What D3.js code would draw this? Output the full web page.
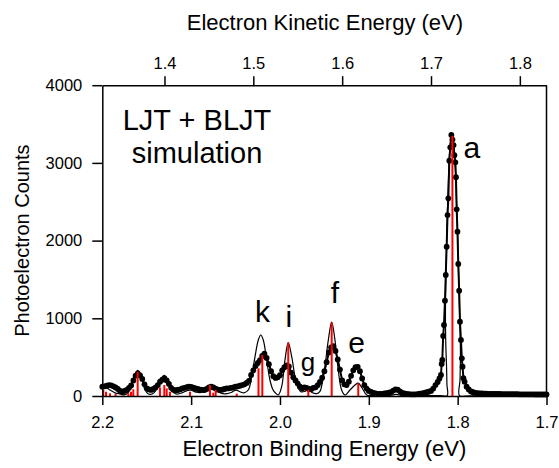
<!DOCTYPE html>
<html>
<head>
<meta charset="utf-8">
<script src="https://cdn.jsdelivr.net/npm/d3@7"></script>
<style>
    body { margin: 0; background: #fff; }
    svg text { font-family: "Liberation Sans", Arial, sans-serif; fill: #000; }
    .axis path, .axis line { stroke: #000; stroke-width: 1.5; }
</style>
</head>
<body>
<svg id="spectrum" width="559" height="468"></svg>
<script>
'use strict';

// Axis ticks
const bindingTicks = [2.2, 2.1, 2.0, 1.9, 1.8, 1.7];
const kineticTicks = [1.4, 1.5, 1.6, 1.7, 1.8];
const countTicks = [0, 1000, 2000, 3000, 4000];
const photonEnergy = 3.530;

// Experimental spectrum [binding energy (eV), counts]
const experiment = [
    [2.2000,120],[2.1975,125],[2.1950,132],[2.1925,140],[2.1900,138],[2.1875,125],[2.1850,110],[2.1825,90],
    [2.1800,65],[2.1775,55],[2.1750,65],[2.1725,77],[2.1700,105],[2.1675,135],[2.1650,200],[2.1625,262],
    [2.1600,292],[2.1575,265],[2.1550,220],[2.1525,150],[2.1500,99],[2.1475,85],[2.1450,78],[2.1425,90],
    [2.1400,110],[2.1375,140],[2.1350,185],[2.1325,210],[2.1300,227],[2.1275,200],[2.1250,155],[2.1225,105],
    [2.1200,80],[2.1175,75],[2.1150,77],[2.1125,85],[2.1100,97],[2.1075,105],[2.1050,115],[2.1025,120],
    [2.1000,118],[2.0975,108],[2.0950,98],[2.0925,90],[2.0900,82],[2.0875,78],[2.0850,77],[2.0825,90],
    [2.0800,110],[2.0775,120],[2.0750,110],[2.0725,95],[2.0700,82],[2.0675,77],[2.0650,82],[2.0625,90],
    [2.0600,97],[2.0575,99],[2.0550,104],[2.0525,112],[2.0500,120],[2.0475,125],[2.0450,132],[2.0425,140],
    [2.0400,150],[2.0375,168],[2.0350,195],[2.0325,270],[2.0300,330],[2.0275,385],[2.0250,425],[2.0225,462],
    [2.0200,515],[2.0175,545],[2.0150,490],[2.0125,410],[2.0100,320],[2.0075,255],[2.0050,232],[2.0025,240],
    [2.0000,268],[1.9975,330],[1.9950,370],[1.9925,395],[1.9900,380],[1.9875,300],[1.9850,240],[1.9825,200],
    [1.9800,160],[1.9775,120],[1.9750,100],[1.9725,110],[1.9700,105],[1.9675,90],[1.9650,88],[1.9625,105],
    [1.9600,112],[1.9575,140],[1.9550,180],[1.9525,235],[1.9500,320],[1.9475,435],[1.9450,560],[1.9425,625],
    [1.9400,640],[1.9375,580],[1.9350,470],[1.9325,340],[1.9300,200],[1.9275,150],[1.9250,140],[1.9225,185],
    [1.9200,260],[1.9175,330],[1.9150,370],[1.9125,375],[1.9100,320],[1.9075,225],[1.9050,140],[1.9025,95],
    [1.9000,65],[1.8975,52],[1.8950,40],[1.8925,32],[1.8900,28],[1.8875,26],[1.8850,28],[1.8825,32],
    [1.8800,38],[1.8775,42],[1.8750,50],[1.8725,70],[1.8700,85],[1.8675,82],[1.8650,60],[1.8625,40],
    [1.8600,32],[1.8575,28],[1.8550,25],[1.8525,22],[1.8500,22],[1.8475,22],[1.8450,25],[1.8425,30],
    [1.8400,35],[1.8375,40],[1.8350,48],[1.8325,55],[1.8300,65],[1.8275,95],[1.8250,140],[1.8225,180],
    [1.8205,225],[1.8188,270],[1.8180,412],[1.8173,463],[1.8163,772],[1.8154,914],[1.8143,1226],[1.8134,1557],
    [1.8124,1921],[1.8114,2329],[1.8105,2544],[1.8094,3028],[1.8083,3200],[1.8071,3359],[1.8059,3300],[1.8046,3230],
    [1.8037,3100],[1.8026,3008],[1.8019,2815],[1.8011,2403],[1.8002,2115],[1.7993,1699],[1.7983,1355],[1.7974,956],
    [1.7963,721],[1.7953,485],[1.7945,377],[1.7935,230],[1.7922,184],[1.7899,120],[1.7875,85],[1.7850,58],
    [1.7825,48],[1.7800,40],[1.7775,36],[1.7750,34],[1.7725,32],[1.7700,30],[1.7675,29],[1.7650,28],
    [1.7625,28],[1.7600,27],[1.7575,27],[1.7550,26],[1.7525,26],[1.7500,25],[1.7475,25],[1.7450,24],
    [1.7425,24],[1.7400,24],[1.7375,23],[1.7350,23],[1.7325,23],[1.7300,22],[1.7275,22],[1.7250,22],
    [1.7225,22],[1.7200,21],[1.7175,21],[1.7150,21],[1.7125,20],[1.7100,20],[1.7075,20],[1.7050,20],
    [1.7025,20],[1.7000,20]
];

// Simulated spectrum (thin line) [binding energy (eV), counts]
const simulation = [
    [2.2000,100],[2.1958,110],[2.1913,77],[2.1857,40],[2.1801,26],[2.1756,15],[2.1711,40],[2.1666,150],
    [2.1632,270],[2.1602,330],[2.1570,270],[2.1531,120],[2.1497,40],[2.1463,20],[2.1418,40],[2.1373,130],
    [2.1339,220],[2.1302,265],[2.1266,210],[2.1227,100],[2.1193,40],[2.1159,25],[2.1103,40],[2.1047,70],
    [2.1002,75],[2.0945,50],[2.0889,45],[2.0833,90],[2.0788,125],[2.0743,100],[2.0686,50],[2.0641,30],
    [2.0597,30],[2.0551,45],[2.0495,75],[2.0450,55],[2.0406,40],[2.0357,77],[2.0319,248],[2.0281,506],
    [2.0244,720],[2.0217,785],[2.0188,720],[2.0150,463],[2.0113,206],[2.0079,80],[2.0056,45],[2.0019,13],
    [1.9981,120],[1.9944,463],[1.9907,686],[1.9868,506],[1.9831,248],[1.9797,110],[1.9764,55],[1.9719,60],
    [1.9681,80],[1.9640,45],[1.9587,30],[1.9550,60],[1.9522,180],[1.9494,377],[1.9456,720],[1.9418,950],
    [1.9381,720],[1.9344,334],[1.9306,77],[1.9268,13],[1.9212,77],[1.9156,141],[1.9119,165],[1.9080,112],
    [1.9024,13],[1.8965,5],[1.8762,8],[1.8694,20],[1.8627,8],[1.8424,5],[1.8199,5],[1.8118,5],
    [1.8121,150],[1.8125,380],[1.8132,600],[1.8137,900],[1.8136,1300],[1.8128,1800],[1.8117,2300],[1.8103,2800],
    [1.8087,3200],[1.8070,3340],[1.8059,3350],[1.8042,3200],[1.8025,2900],[1.8010,2400],[1.7999,2000],[1.7988,1500],
    [1.7979,1100],[1.7970,700],[1.7969,450],[1.7974,200],[1.7979,5],[1.7862,3],[1.7000,3]
];

// Stick spectrum (red)
const stickEnergy = [2.1989, 2.1958, 2.1913, 2.1851, 2.1707, 2.1677, 2.1651, 2.1602, 2.1351, 2.1302, 2.1275,
    2.1238, 2.1013, 2.0788, 2.0751, 2.0724, 2.0487, 2.0242, 2.0199, 1.9907, 1.9681, 1.9418, 1.9119, 1.8059];
const stickCounts = [77, 55, 35, 25, 35, 55, 86, 313, 110, 141, 99,
    55, 55, 141, 42, 77, 30, 356, 528, 686, 80, 945, 163, 3350];

// Peak labels
const peakNames = ['a', 'e', 'f', 'g', 'i', 'k'];
const peakLabelEnergy = [1.7839, 1.9137, 1.9381, 1.9685, 1.9899, 2.0197];
const peakLabelCounts = [3059, 553, 1193, 322, 888, 956];

const svg = d3.select('#spectrum');
const margin = {'top': 85.2, 'right': 12.5, 'bottom': 72, 'left': 102.3};
const width = +svg.attr('width') - (margin.left + margin.right);
const height = +svg.attr('height') - (margin.top + margin.bottom);

const container = svg.append('g')
    .attr('transform', `translate(${margin.left}, ${margin.top})`);

// Scales
const scX = d3.scaleLinear().domain([2.2, 1.7]).range([0, width]);
const scKE = d3.scaleLinear().domain([photonEnergy - 2.2, photonEnergy - 1.7]).range([0, width]);
const scY = d3.scaleLinear().domain([0, 4000]).range([height, 0]);

// Simulated line
container.append('path')
    .datum(simulation)
    .attr('fill', 'none')
    .attr('stroke', '#000')
    .attr('stroke-width', 1.2)
    .attr('d', d3.line()
        .x((d) => scX(d[0]))
        .y((d) => scY(d[1]))
        .curve(d3.curveCatmullRom.alpha(0.5)));

// Experimental line + dots
container.append('path')
    .datum(experiment)
    .attr('fill', 'none')
    .attr('stroke', '#000')
    .attr('stroke-width', 2)
    .attr('stroke-linejoin', 'round')
    .attr('d', d3.line()
        .x((d) => scX(d[0]))
        .y((d) => scY(d[1])));

container.selectAll('.dot')
    .data(experiment)
    .enter()
    .append('circle')
        .attr('class', 'dot')
        .attr('cx', (d) => scX(d[0]))
        .attr('cy', (d) => scY(d[1]))
        .attr('r', 2.9)
        .style('fill', '#000');

// Sticks
container.selectAll('.stick')
    .data(stickEnergy)
    .enter()
    .append('line')
        .attr('class', 'stick')
        .attr('x1', (d) => scX(d))
        .attr('x2', (d) => scX(d))
        .attr('y1', scY(0))
        .attr('y2', (d, i) => scY(stickCounts[i]))
        .attr('stroke', '#ff0000')
        .attr('stroke-width', 2);

// Axes
container.append('g')
    .attr('class', 'x axis')
    .attr('transform', `translate(0, ${height})`)
    .call(d3.axisBottom(scX).tickValues(bindingTicks).tickFormat(d3.format('.1f'))
        .tickSize(9).tickSizeOuter(0).tickPadding(11))
    .selectAll('text').style('font-size', '16.5px');

container.append('g')
    .attr('class', 'x2 axis')
    .call(d3.axisTop(scKE).tickValues(kineticTicks).tickFormat(d3.format('.1f'))
        .tickSize(9).tickSizeOuter(0).tickPadding(7))
    .selectAll('text').style('font-size', '16.5px');

container.append('g')
    .attr('class', 'y axis')
    .call(d3.axisLeft(scY).tickValues(countTicks).tickFormat(d3.format('d'))
        .tickSize(10).tickSizeOuter(0).tickPadding(10))
    .selectAll('text').style('font-size', '16.5px');

container.append('line')
    .attr('x1', width).attr('x2', width)
    .attr('y1', 0).attr('y2', height)
    .attr('stroke', '#000')
    .attr('stroke-width', 1.5);

// Axis titles
svg.append('text')
    .attr('x', margin.left + scX(1.95))
    .attr('y', 456)
    .attr('text-anchor', 'middle')
    .style('font-size', '22px')
    .text('Electron Binding Energy (eV)');

svg.append('text')
    .attr('x', margin.left + scX(1.9494))
    .attr('y', 30)
    .attr('text-anchor', 'middle')
    .style('font-size', '22px')
    .text('Electron Kinetic Energy (eV)');

svg.append('text')
    .attr('transform', `translate(29, ${margin.top + scY(2000)}) rotate(-90)`)
    .attr('text-anchor', 'middle')
    .style('font-size', '20px')
    .text('Photoelectron Counts');

// Inset label
container.append('text')
    .attr('x', scX(2.0934))
    .attr('y', scY(3423))
    .attr('text-anchor', 'middle')
    .style('font-size', '29px')
    .text('LJT + BLJT');

container.append('text')
    .attr('x', scX(2.0934))
    .attr('y', scY(2995))
    .attr('text-anchor', 'middle')
    .style('font-size', '29px')
    .text('simulation');

// Peak labels
container.selectAll('.peak')
    .data(peakNames)
    .enter()
    .append('text')
        .attr('class', 'peak')
        .attr('x', (d, i) => scX(peakLabelEnergy[i]))
        .attr('y', (d, i) => scY(peakLabelCounts[i]))
        .attr('text-anchor', 'middle')
        .style('font-size', (d) => d === 'g' ? '26px' : '30px')
        .text((d) => d);
</script>
</body>
</html>
